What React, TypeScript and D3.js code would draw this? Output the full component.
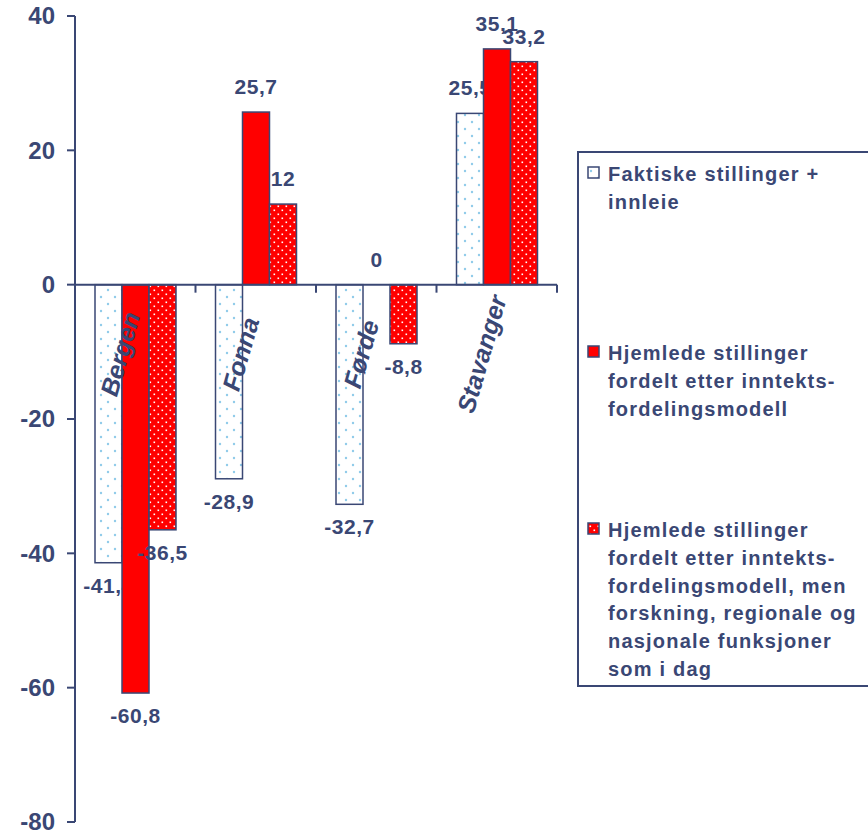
import React, { useRef, useEffect } from "react";
import * as d3 from "d3";

const categories = ["Bergen", "Fonna", "Førde", "Stavanger"];
const series = ["faktiske", "hjemlede", "hjemledeFou"];
const faktiske = [-41.4, -28.9, -32.7, 25.5];
const hjemlede = [-60.8, 25.7, 0, 35.1];
const hjemledeFou = [-36.5, 12, -8.8, 33.2];
const yTicks = [40, 20, 0, -20, -40, -60, -80];
const legendLines = [
  ["Faktiske stillinger +", "innleie"],
  ["Hjemlede stillinger", "fordelt etter inntekts-", "fordelingsmodell"],
  [
    "Hjemlede stillinger",
    "fordelt etter inntekts-",
    "fordelingsmodell, men",
    "forskning, regionale og",
    "nasjonale funksjoner",
    "som i dag",
  ],
];

const NAVY = "#3a4774";
const FONT = "Arial, 'Liberation Sans', sans-serif";

const App: React.FC = () => {
  const svgRef = useRef<SVGSVGElement>(null);

  useEffect(() => {
    if (!svgRef.current) return;
    const svg = d3.select(svgRef.current);
    svg.selectAll("*").remove();

    const defs = svg.append("defs");
    const p1 = defs
      .append("pattern")
      .attr("id", "dotsBlue")
      .attr("patternUnits", "userSpaceOnUse")
      .attr("width", 14)
      .attr("height", 14);
    p1.append("rect").attr("width", 14).attr("height", 14).attr("fill", "#ffffff");
    p1.append("circle").attr("cx", 3).attr("cy", 3).attr("r", 1.2).attr("fill", "#8fcbea");
    p1.append("circle").attr("cx", 10).attr("cy", 10).attr("r", 1.2).attr("fill", "#8fcbea");

    const p2 = defs
      .append("pattern")
      .attr("id", "dotsRed")
      .attr("patternUnits", "userSpaceOnUse")
      .attr("width", 8)
      .attr("height", 8);
    p2.append("rect").attr("width", 8).attr("height", 8).attr("fill", "#ff0000");
    p2.append("rect").attr("x", 1.5).attr("y", 1.5).attr("width", 1.6).attr("height", 1.6).attr("fill", "#ffffff");
    p2.append("rect").attr("x", 5.5).attr("y", 5.5).attr("width", 1.6).attr("height", 1.6).attr("fill", "#ffffff");

    const fills = ["url(#dotsBlue)", "#ff0000", "url(#dotsRed)"];
    const values = [faktiske, hjemlede, hjemledeFou];

    const y = d3.scaleLinear().domain([-80, 40]).range([822, 16]);
    const x0 = d3.scaleBand().domain(categories).range([75, 557]).padding(0);
    const x1 = d3.scaleBand().domain(series).range([20, 101]).padding(0);

    const g = svg.append("g");

    // bars
    categories.forEach((c, ci) => {
      series.forEach((s, si) => {
        const v = values[si][ci];
        const bx = (x0(c) as number) + (x1(s) as number);
        if (v !== 0) {
          g.append("rect")
            .attr("x", bx)
            .attr("y", y(Math.max(0, v)))
            .attr("width", x1.bandwidth())
            .attr("height", Math.abs(y(v) - y(0)))
            .attr("fill", fills[si])
            .attr("stroke", NAVY)
            .attr("stroke-width", 1.5);
        }
        g.append("text")
          .attr("x", bx + x1.bandwidth() / 2)
          .attr("y", v >= 0 ? y(v) - 18 : y(v) + 30)
          .attr("text-anchor", "middle")
          .attr("font-family", FONT)
          .attr("font-weight", "bold")
          .attr("font-size", 21)
          .attr("letter-spacing", 0.5)
          .attr("fill", NAVY)
          .text(String(v).replace(".", ","));
      });
    });

    // x axis
    g.append("line")
      .attr("x1", 75)
      .attr("x2", 557)
      .attr("y1", y(0))
      .attr("y2", y(0))
      .attr("stroke", NAVY)
      .attr("stroke-width", 2);
    categories.forEach((c) => {
      const tx = (x0(c) as number) + x0.bandwidth();
      g.append("line")
        .attr("x1", tx)
        .attr("x2", tx)
        .attr("y1", y(0))
        .attr("y2", y(0) + 8)
        .attr("stroke", NAVY)
        .attr("stroke-width", 2);
      g.append("text")
        .attr(
          "transform",
          `translate(${(x0(c) as number) + x0.bandwidth() / 2 - 15},354) rotate(-74)`
        )
        .attr("text-anchor", "middle")
        .attr("dy", "0.35em")
        .attr("font-family", FONT)
        .attr("font-weight", "bold")
        .attr("font-style", "italic")
        .attr("font-size", 25)
        .attr("fill", NAVY)
        .text(c);
    });

    // y axis
    g.append("line")
      .attr("x1", 75)
      .attr("x2", 75)
      .attr("y1", y(40))
      .attr("y2", y(-80))
      .attr("stroke", NAVY)
      .attr("stroke-width", 2);
    yTicks.forEach((t) => {
      g.append("line")
        .attr("x1", 67)
        .attr("x2", 75)
        .attr("y1", y(t))
        .attr("y2", y(t))
        .attr("stroke", NAVY)
        .attr("stroke-width", 2);
      g.append("text")
        .attr("x", 55)
        .attr("y", y(t))
        .attr("dy", "0.35em")
        .attr("text-anchor", "end")
        .attr("font-family", FONT)
        .attr("font-weight", "bold")
        .attr("font-size", 24)
        .attr("fill", NAVY)
        .text(String(t));
    });

    // legend
    const lg = svg.append("g");
    lg.append("rect")
      .attr("x", 578)
      .attr("y", 152)
      .attr("width", 320)
      .attr("height", 534)
      .attr("fill", "#ffffff")
      .attr("stroke", NAVY)
      .attr("stroke-width", 2);
    const entryTop = [181, 360, 537];
    legendLines.forEach((lines, i) => {
      lg.append("rect")
        .attr("x", 588)
        .attr("y", entryTop[i] - 14)
        .attr("width", 11)
        .attr("height", 11)
        .attr("fill", fills[i])
        .attr("stroke", NAVY)
        .attr("stroke-width", 1.5);
      lines.forEach((ln, li) => {
        lg.append("text")
          .attr("x", 608)
          .attr("y", entryTop[i] + li * 27.8)
          .attr("font-family", FONT)
          .attr("font-weight", "bold")
          .attr("font-size", 20)
          .attr("letter-spacing", 1.2)
          .attr("fill", NAVY)
          .text(ln);
      });
    });

    return () => {
      svg.selectAll("*").remove();
    };
  }, []);

  return (
    <svg
      ref={svgRef}
      width={868}
      height={834}
      style={{ position: "absolute", left: 0, top: 0, background: "#ffffff" }}
    ></svg>
  );
};

export default App;
